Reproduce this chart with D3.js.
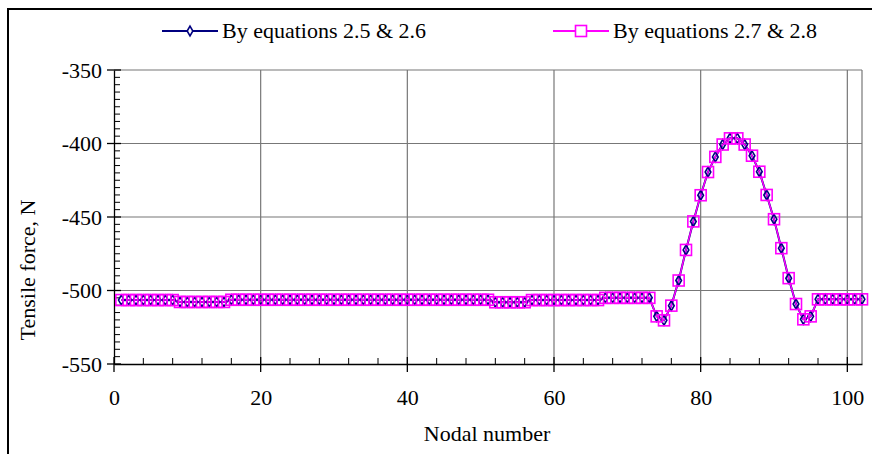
<!DOCTYPE html>
<html>
<head>
<meta charset="utf-8">
<script src="https://cdnjs.cloudflare.com/ajax/libs/d3/7.8.5/d3.min.js"></script>
<style>
  body { margin: 0; background: #fff; }
  text { font-family: "Liberation Serif", "Times New Roman", serif; fill: #000; }
</style>
</head>
<body>
<div id="chart"></div>
<script>
// 節點編號
const nodes = [
  1, 2, 3, 4, 5, 6, 7, 8, 9, 10, 11, 12, 13, 14, 15, 16, 17, 18, 19, 20,
  21, 22, 23, 24, 25, 26, 27, 28, 29, 30, 31, 32, 33, 34, 35, 36, 37, 38, 39, 40,
  41, 42, 43, 44, 45, 46, 47, 48, 49, 50, 51, 52, 53, 54, 55, 56, 57, 58, 59, 60,
  61, 62, 63, 64, 65, 66, 67, 68, 69, 70, 71, 72, 73, 74, 75, 76, 77, 78, 79, 80,
  81, 82, 83, 84, 85, 86, 87, 88, 89, 90, 91, 92, 93, 94, 95, 96, 97, 98, 99, 100,
  101, 102
];

// By equations 2.5 & 2.6
const forceEq25 = [
  -506.5, -506.5, -506.5, -506.5, -506.5, -506.5, -506.5, -506.5,
  -507.8, -507.8, -507.8, -507.8, -507.8, -507.8, -507.8,
  -506.3, -506.3, -506.3, -506.3, -506.3, -506.3, -506.3, -506.3, -506.3, -506.3,
  -506.3, -506.3, -506.3, -506.3, -506.3, -506.3, -506.3, -506.3, -506.3, -506.3,
  -506.3, -506.3, -506.3, -506.3, -506.3, -506.3, -506.3, -506.3, -506.3, -506.3,
  -506.3, -506.3, -506.3, -506.3, -506.3, -506.3,
  -508.0, -508.0, -508.0, -508.0, -508.0,
  -506.5, -506.5, -506.5, -506.5, -506.5, -506.5, -506.5, -506.5, -506.5, -506.5,
  -505.0, -505.0, -505.0, -505.0, -505.0, -505.0, -505.0,
  -517.6, -520.3, -510.3, -493.2, -472.4, -453.0, -435.2, -419.4, -409.1, -400.7,
  -396.5, -396.5, -400.7, -408.3, -419.2, -435.0, -451.5, -471.2, -491.6, -509.2,
  -519.6, -517.6,
  -506.0, -506.0, -506.0, -506.0, -506.0, -506.0, -506.0
];

// By equations 2.7 & 2.8
const forceEq27 = [
  -506.5, -506.5, -506.5, -506.5, -506.5, -506.5, -506.5, -506.5,
  -507.8, -507.8, -507.8, -507.8, -507.8, -507.8, -507.8,
  -506.3, -506.3, -506.3, -506.3, -506.3, -506.3, -506.3, -506.3, -506.3, -506.3,
  -506.3, -506.3, -506.3, -506.3, -506.3, -506.3, -506.3, -506.3, -506.3, -506.3,
  -506.3, -506.3, -506.3, -506.3, -506.3, -506.3, -506.3, -506.3, -506.3, -506.3,
  -506.3, -506.3, -506.3, -506.3, -506.3, -506.3,
  -508.0, -508.0, -508.0, -508.0, -508.0,
  -506.5, -506.5, -506.5, -506.5, -506.5, -506.5, -506.5, -506.5, -506.5, -506.5,
  -505.0, -505.0, -505.0, -505.0, -505.0, -505.0, -505.0,
  -517.6, -520.3, -510.3, -493.2, -472.4, -453.0, -435.2, -419.4, -409.1, -400.7,
  -396.5, -396.5, -400.7, -408.3, -419.2, -435.0, -451.5, -471.2, -491.6, -509.2,
  -519.6, -517.6,
  -506.0, -506.0, -506.0, -506.0, -506.0, -506.0, -506.0
];

const xTicks = [0, 20, 40, 60, 80, 100];
const yTicks = [-350, -400, -450, -500, -550];
const xMinor = [4, 8, 12, 16, 24, 28, 32, 36, 44, 48, 52, 56, 64, 68, 72, 76, 84, 88, 92, 96];
const yMinor = [-355, -360, -365, -370, -375, -380, -385, -390, -395,
  -405, -410, -415, -420, -425, -430, -435, -440, -445,
  -455, -460, -465, -470, -475, -480, -485, -490, -495,
  -505, -510, -515, -520, -525, -530, -535, -540, -545];
const seriesNames = ["By equations 2.5 & 2.6", "By equations 2.7 & 2.8"];

// 畫布大小
const width = 872;
const height = 454;
const fontSize = 22;

const svg = d3.select("#chart")
  .append("svg")
  .attr("width", width)
  .attr("height", height);

// 外框
svg.append("rect")
  .attr("x", 8).attr("y", 9)
  .attr("width", 900).attr("height", 500)
  .attr("fill", "none")
  .attr("stroke", "#000")
  .attr("stroke-width", 2);

// 比例尺
const x = d3.scaleLinear().domain([0, 102]).range([114, 862]);
const y = d3.scaleLinear().domain([-550, -350]).range([364, 70]);

// 格線
svg.append("g")
  .selectAll("line")
  .data(xTicks.slice(1).concat([102]))
  .enter()
  .append("line")
  .attr("x1", d => x(d)).attr("x2", d => x(d))
  .attr("y1", y(-350)).attr("y2", y(-550))
  .attr("stroke", "#777")
  .attr("stroke-width", 1.2);

svg.append("g")
  .selectAll("line")
  .data(yTicks.slice(0, 4))
  .enter()
  .append("line")
  .attr("x1", x(0)).attr("x2", x(102))
  .attr("y1", d => y(d)).attr("y2", d => y(d))
  .attr("stroke", "#777")
  .attr("stroke-width", 1.2);

// Y 軸
const yAxis = svg.append("g").attr("transform", `translate(${x(0)},0)`);
yAxis.call(d3.axisLeft(y).tickValues(yTicks).tickSize(0).tickFormat(d => String(d)).tickPadding(12))
  .call(g => g.select(".domain").attr("stroke", "#000").attr("stroke-width", 1.3))
  .call(g => g.selectAll("text").attr("font-size", fontSize).attr("font-family", "Liberation Serif"));
yAxis.selectAll(".major")
  .data(yTicks).enter().append("line")
  .attr("x1", -7).attr("x2", 7)
  .attr("y1", d => y(d)).attr("y2", d => y(d))
  .attr("stroke", "#000").attr("stroke-width", 1.3);
yAxis.selectAll(".minor")
  .data(yMinor).enter().append("line")
  .attr("x1", 0).attr("x2", 6)
  .attr("y1", d => y(d)).attr("y2", d => y(d))
  .attr("stroke", "#000").attr("stroke-width", 1);

// X 軸
const xAxis = svg.append("g").attr("transform", `translate(0,${y(-550)})`);
xAxis.call(d3.axisBottom(x).tickValues(xTicks).tickSize(0).tickPadding(25))
  .call(g => g.select(".domain").attr("stroke", "#000").attr("stroke-width", 1.3))
  .call(g => g.selectAll("text").attr("font-size", fontSize).attr("font-family", "Liberation Serif"));
xAxis.selectAll(".major")
  .data(xTicks).enter().append("line")
  .attr("x1", d => x(d)).attr("x2", d => x(d))
  .attr("y1", -7).attr("y2", 8)
  .attr("stroke", "#000").attr("stroke-width", 1.3);
xAxis.selectAll(".minor")
  .data(xMinor).enter().append("line")
  .attr("x1", d => x(d)).attr("x2", d => x(d))
  .attr("y1", 0).attr("y2", -6)
  .attr("stroke", "#000").attr("stroke-width", 1);

// 軸標題
svg.append("text")
  .attr("x", 487).attr("y", 441)
  .attr("text-anchor", "middle")
  .attr("font-size", fontSize)
  .text("Nodal number");

svg.append("text")
  .attr("transform", "translate(35,270) rotate(-90)")
  .attr("text-anchor", "middle")
  .attr("font-size", fontSize)
  .text("Tensile force, N");

// 折線
const line = d3.line()
  .x((d, i) => x(nodes[i]))
  .y(d => y(d));

svg.append("path")
  .datum(forceEq25)
  .attr("d", line)
  .attr("fill", "none")
  .attr("stroke", "#000080")
  .attr("stroke-width", 2);

svg.append("path")
  .datum(forceEq27)
  .attr("d", line)
  .attr("fill", "none")
  .attr("stroke", "#FF00FF")
  .attr("stroke-width", 1.5);

// 標記
const diamond = d3.symbol().type(d3.symbolDiamond).size(28);
svg.append("g")
  .selectAll("path")
  .data(forceEq25)
  .enter()
  .append("path")
  .attr("d", diamond)
  .attr("transform", (d, i) => `translate(${x(nodes[i])},${y(d)})`)
  .attr("fill", "none")
  .attr("stroke", "#000080")
  .attr("stroke-width", 1.6);

svg.append("g")
  .selectAll("rect")
  .data(forceEq27)
  .enter()
  .append("rect")
  .attr("x", (d, i) => x(nodes[i]) - 5.5)
  .attr("y", d => y(d) - 5.5)
  .attr("width", 11).attr("height", 11)
  .attr("fill", "none")
  .attr("stroke", "#FF00FF")
  .attr("stroke-width", 1.6);

// 圖例
const legend = svg.append("g");
legend.append("line").attr("x1", 162).attr("x2", 218).attr("y1", 31).attr("y2", 31)
  .attr("stroke", "#000080").attr("stroke-width", 2);
legend.append("path").attr("d", diamond).attr("transform", "translate(190,31)")
  .attr("fill", "#fff").attr("stroke", "#000080").attr("stroke-width", 1.6);
legend.append("text").attr("x", 222).attr("y", 38).attr("font-size", fontSize).text(seriesNames[0]);

legend.append("line").attr("x1", 553).attr("x2", 609).attr("y1", 31).attr("y2", 31)
  .attr("stroke", "#FF00FF").attr("stroke-width", 2);
legend.append("rect").attr("x", 575.5).attr("y", 25.5).attr("width", 11).attr("height", 11)
  .attr("fill", "#fff").attr("stroke", "#FF00FF").attr("stroke-width", 1.6);
legend.append("text").attr("x", 613).attr("y", 38).attr("font-size", fontSize).text(seriesNames[1]);
</script>
</body>
</html>
